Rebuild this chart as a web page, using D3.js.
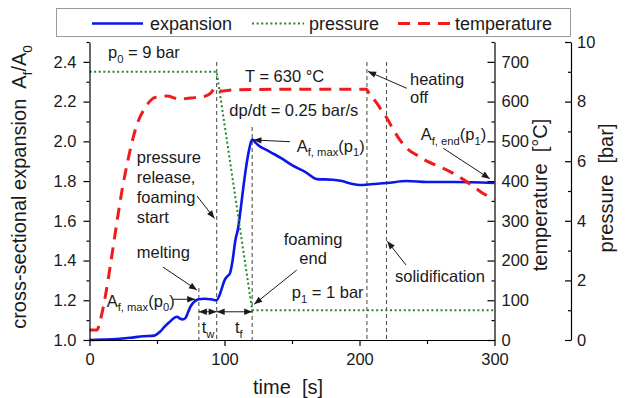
<!DOCTYPE html>
<html><head><meta charset="utf-8">
<script src="https://cdn.jsdelivr.net/npm/d3@7"></script>
<style>
html,body{margin:0;padding:0;background:#fff;}
svg{display:block;font-family:"Liberation Sans",Arial,sans-serif;}
svg text{white-space:pre;}
</style></head>
<body>
<svg id="chart" width="626" height="398"></svg>
<script>
// ---- data ----
const expTime = [0,10,20,30,40,48,52,56,60,63,65,67,69,71,73,75,78,81,85,90,94,96,98,100,102,104,106,108,110,112,114,116,118,120.5,122,125,131,137,142,150,160,168.5,180,187,194,200,210,220,235,250,270,300];
const expValue = [1.0,1.002,1.005,1.011,1.019,1.022,1.04,1.07,1.095,1.113,1.117,1.108,1.104,1.11,1.14,1.17,1.195,1.205,1.208,1.205,1.2,1.22,1.26,1.3,1.32,1.335,1.4,1.5,1.56,1.66,1.77,1.87,1.95,2.01,2.0,1.98,1.957,1.935,1.915,1.88,1.845,1.81,1.807,1.8,1.787,1.78,1.785,1.79,1.8,1.795,1.795,1.79];
const tempTime = [0,5.5,8,12,16,20,24,28,32,36,40,44,48,52,58,62,67,72,78,85,90,93,95,98,102,110,150,205,208,212,216,220,225,230,236,242,250,260,268,275,283,291,300];
const tempValue = [25,25,50,115,200,290,375,445,505,550,578,598,610,612,614,610,606,608,610,613,622,635,632,626,628,630,631,631,615,600,580,560,530,503,480,466,450,435,422,408,390,370,355];
const presTime = [0,94.2,120.5,300];
const presValue = [9,9,1,1];
const timeTicks = [0,100,200,300];
const timeMinor = [50,150,250];
const expTicks = [1.0,1.2,1.4,1.6,1.8,2.0,2.2,2.4];
const expMinor = [1.1,1.3,1.5,1.7,1.9,2.1,2.3,2.5];
const tempTicks = [0,100,200,300,400,500,600,700];
const tempMinor = [50,150,250,350,450,550,650,750];
const presTicks = [0,2,4,6,8,10];
const presMinor = [1,3,5,7,9];
const eventTimes = [81,94.2,120.5,205.5,220];
const eventTops = [1.262,2.399,2.072,2.399,2.399];
const seriesNames = ["expansion","pressure","temperature"];

// ---- layout ----
const svg = d3.select("#chart");
const x = d3.scaleLinear().domain([0,300]).range([89.5,494.5]);
const yA = d3.scaleLinear().domain([1.0,2.5]).range([340,42]);
const yT = d3.scaleLinear().domain([0,750]).range([340,42]);
const yP = d3.scaleLinear().domain([0,10]).range([340,42]);
const axisX2 = 571;

const BLUE="#0b16e8", GREEN="#1c8c22", RED="#ee1c1c", INK="#1a1a1a";
const FS = 16.5;

// legend
const lg = svg.append("g");
lg.append("rect").attr("x",56.5).attr("y",8.5).attr("width",514).attr("height",28)
  .attr("fill","#fff").attr("stroke","#9a9a9a").attr("stroke-width",1);
lg.append("line").attr("x1",92).attr("x2",143).attr("y1",23.5).attr("y2",23.5).attr("stroke",BLUE).attr("stroke-width",2.6);
lg.append("text").attr("x",150).attr("y",29.5).attr("font-size",18).attr("fill",INK).text(seriesNames[0]);
lg.append("line").attr("x1",252).attr("x2",304).attr("y1",23.5).attr("y2",23.5).attr("stroke",GREEN).attr("stroke-width",2).attr("stroke-dasharray","2,2.6");
lg.append("text").attr("x",309).attr("y",29.5).attr("font-size",18).attr("fill",INK).text(seriesNames[1]);
lg.append("line").attr("x1",398).attr("x2",451).attr("y1",23.5).attr("y2",23.5).attr("stroke",RED).attr("stroke-width",3).attr("stroke-dasharray","12,8");
lg.append("text").attr("x",455).attr("y",29.5).attr("font-size",18).attr("fill",INK).text(seriesNames[2]);

// event lines
const ev = svg.append("g");
eventTimes.forEach((t,i)=>{
  ev.append("line").attr("x1",x(t)).attr("x2",x(t)).attr("y1",yA(eventTops[i])).attr("y2",340)
    .attr("stroke","#555").attr("stroke-width",1.1).attr("stroke-dasharray","4,3");
});

// series
const lineA = d3.line().x((d,i)=>x(expTime[i])).y(d=>yA(d)).curve(d3.curveMonotoneX);
svg.append("path").datum(expValue).attr("d",lineA).attr("fill","none").attr("stroke",BLUE).attr("stroke-width",2.6);
const lineP = d3.line().x((d,i)=>x(presTime[i])).y(d=>yP(d));
svg.append("path").datum(presValue).attr("d",lineP).attr("fill","none").attr("stroke",GREEN).attr("stroke-width",2).attr("stroke-dasharray","2,2.6");
const lineT = d3.line().x((d,i)=>x(tempTime[i])).y(d=>yT(d)).curve(d3.curveMonotoneX);
svg.append("path").datum(tempValue).attr("d",lineT).attr("fill","none").attr("stroke",RED).attr("stroke-width",3).attr("stroke-dasharray","12,8");

// axes
function styleAxis(g){
  g.selectAll("path,line").attr("stroke","#000").attr("stroke-width",1.2);
  g.selectAll("text").attr("font-size",FS).attr("fill",INK).attr("font-family","Liberation Sans, Arial, sans-serif");
}
const gx = svg.append("g").attr("transform","translate(0,340)")
  .call(d3.axisBottom(x).tickValues(timeTicks).tickFormat(d3.format("d")).tickSize(6).tickSizeOuter(0).tickPadding(7));
styleAxis(gx);
const gxm = svg.append("g").attr("transform","translate(0,340)")
  .call(d3.axisBottom(x).tickValues(timeMinor).tickFormat("").tickSize(4));
gxm.select(".domain").remove(); styleAxis(gxm);

const gl = svg.append("g").attr("transform","translate(89.5,0)")
  .call(d3.axisLeft(yA).tickValues(expTicks).tickFormat(d3.format(".1f")).tickSize(6).tickSizeOuter(0).tickPadding(7));
styleAxis(gl);
const glm = svg.append("g").attr("transform","translate(89.5,0)")
  .call(d3.axisLeft(yA).tickValues(expMinor).tickFormat("").tickSize(3));
glm.select(".domain").remove(); styleAxis(glm);

const gt = svg.append("g").attr("transform","translate(494.5,0)")
  .call(d3.axisRight(yT).tickValues(tempTicks).tickFormat(d3.format("d")).tickSize(-7).tickSizeOuter(0).tickPadding(7));
styleAxis(gt);
const gtm = svg.append("g").attr("transform","translate(494.5,0)")
  .call(d3.axisRight(yT).tickValues(tempMinor).tickFormat("").tickSize(-3));
gtm.select(".domain").remove(); styleAxis(gtm);

const gp = svg.append("g").attr("transform",`translate(${axisX2},0)`)
  .call(d3.axisRight(yP).tickValues(presTicks).tickFormat(d3.format("d")).tickSize(-6).tickSizeOuter(0).tickPadding(6));
styleAxis(gp);
const gpm = svg.append("g").attr("transform",`translate(${axisX2},0)`)
  .call(d3.axisRight(yP).tickValues(presMinor).tickFormat("").tickSize(-3));
gpm.select(".domain").remove(); styleAxis(gpm);

// rich text helper: parts = [[text, sub?]]
function rich(parent, px, py, parts, opts={}){
  const t = parent.append("text").attr("x",px).attr("y",py).attr("font-size",opts.size||FS).attr("fill",INK);
  if(opts.anchor) t.attr("text-anchor",opts.anchor);
  if(opts.rotate) t.attr("transform",`rotate(${opts.rotate},${px},${py})`);
  let sub=false;
  const s = (opts.size||FS);
  parts.forEach(([txt,isSub])=>{
    const sp = t.append("tspan").text(txt);
    if(isSub && !sub){ sp.attr("dy",s*0.28).attr("font-size",s*0.68); }
    else if(!isSub && sub){ sp.attr("dy",-s*0.28); }
    else if(isSub){ sp.attr("font-size",s*0.68); }
    sub=isSub;
  });
  return t;
}

// axis titles
rich(svg, 288, 394, [["time  [s]",false]], {size:20, anchor:"middle"});
rich(svg, 26, 187, [["cross-sectional expansion  A",false],["f",true],["/A",false],["0",true]], {size:20, anchor:"middle", rotate:-90});
rich(svg, 547, 195, [["temperature  [°C]",false]], {size:20, anchor:"middle", rotate:-90});
rich(svg, 613, 188, [["pressure  [bar]",false]], {size:20, anchor:"middle", rotate:-90});

// annotations
const an = svg.append("g");
rich(an, x(13.7), yA(2.419), [["p",false],["0",true],[" = 9 bar",false]]);
rich(an, x(115.2), yA(2.299), [["T = 630 °C",false]]);
rich(an, x(103.6), yA(2.128), [["dp/dt = 0.25 bar/s",false]]);
rich(an, x(153.5), yA(1.948), [["A",false],["f, max",true],["(p",false],["1",true],[")",false]]);
["pressure","release,","foaming","start"].forEach((s,i)=>{
  rich(an, x(35), [yA(1.891),yA(1.79),yA(1.69),yA(1.589)][i], [[s,false]]);
});
rich(an, x(35), yA(1.413), [["melting",false]]);
rich(an, x(12.7), yA(1.168), [["A",false],["f, max",true],["(p",false],["0",true],[")",false]]);
rich(an, x(83.1), yA(1.035), [["t",false],["w",true]]);
rich(an, x(107.8), yA(1.035), [["t",false],["f",true]]);
rich(an, x(165.6), yA(1.478), [["foaming",false]], {anchor:"middle"});
rich(an, x(165.6), yA(1.383), [["end",false]], {anchor:"middle"});
rich(an, x(149.8), yA(1.21), [["p",false],["1",true],[" = 1 bar",false]]);
rich(an, x(237.4), yA(2.284), [["heating",false]]);
rich(an, x(237.4), yA(2.193), [["off",false]]);
rich(an, x(245.3), yA(2.007), [["A",false],["f, end",true],["(p",false],["1",true],[")",false]]);
rich(an, x(226.3), yA(1.293), [["solidification",false]]);

// arrows
function head(g, x1,y1,x2,y2){
  const a = Math.atan2(y2-y1,x2-x1), L=8, W=3.2;
  const p = [[x2,y2],[x2-L*Math.cos(a)+W*Math.sin(a), y2-L*Math.sin(a)-W*Math.cos(a)],[x2-L*Math.cos(a)-W*Math.sin(a), y2-L*Math.sin(a)+W*Math.cos(a)]];
  g.append("path").attr("d","M"+p.map(q=>q.join(",")).join("L")+"Z").attr("fill",INK);
}
function arrow(t1,a1,t2,a2,both){
  const x1=x(t1),y1=yA(a1),x2=x(t2),y2=yA(a2);
  an.append("line").attr("x1",x1).attr("y1",y1).attr("x2",x2).attr("y2",y2).attr("stroke",INK).attr("stroke-width",1);
  head(an,x1,y1,x2,y2);
  if(both) head(an,x2,y2,x1,y1);
}
arrow(148.5,1.998,121.4,2.007);
arrow(79.6,1.725,92.6,1.612);
arrow(54.4,1.367,79.6,1.252);
arrow(61.9,1.205,78.3,1.205);
arrow(81,1.142,94.2,1.142,true);
arrow(94.2,1.142,120.5,1.142,true);
arrow(153.5,1.352,122,1.18);
arrow(235,2.267,206.3,2.352);
arrow(262.1,1.965,296.5,1.812);
arrow(234.4,1.378,220.6,1.497);
</script>
</body></html>
